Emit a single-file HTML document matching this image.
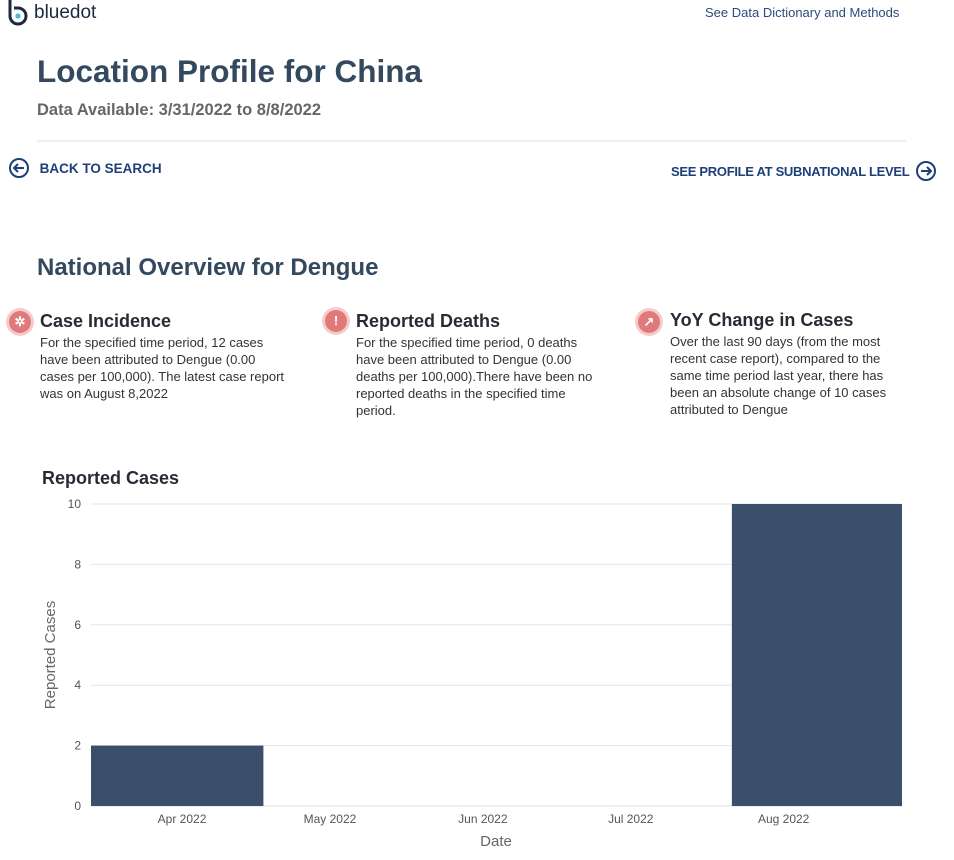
<!DOCTYPE html>
<html><head><meta charset="utf-8">
<style>
body{margin:0;width:954px;height:860px;background:#fff;font-family:"Liberation Sans",sans-serif;position:relative;overflow:hidden}
.a{position:absolute;white-space:nowrap}
.h{color:#34495e;font-weight:bold}
.p{font-size:13px;color:#333;line-height:17px;white-space:normal}
.link{color:#1d3f7a;font-weight:bold;font-size:13px}
.ic{position:absolute;width:22px;height:22px;border-radius:50%;background:#e07a7a;box-shadow:0 0 0 3px #f4cccc;color:#fff;font-size:13px;font-weight:bold;text-align:center;line-height:22px}
</style></head><body>
<div class="a" style="left:6px;top:0;">
<svg width="24" height="26" style="position:absolute;left:0;top:0"><path d="M4 0 V16 A8 8 0 1 0 12 8 H8" stroke="#1b2a3f" stroke-width="3" fill="none"/><circle cx="12" cy="16" r="2.6" fill="#4fb3e8"/></svg>
<span style="position:absolute;left:28px;top:2px;font-size:19px;color:#1b2a3f">bluedot</span></div>
<div class="a" style="left:705px;top:5px;font-size:13px;color:#2c4a7a">See Data Dictionary and Methods</div>
<div class="a h" style="left:37px;top:53px;font-size:31.5px">Location Profile for China</div>
<div class="a" style="left:37px;top:101px;font-size:16.5px;font-weight:bold;color:#666">Data Available: 3/31/2022 to 8/8/2022</div>
<div class="a" style="left:37px;top:140px;width:869px;height:2px;background:#eee"></div>
<div class="a link" style="left:8px;top:157px">
<svg width="22" height="22" style="vertical-align:middle"><circle cx="11" cy="11" r="9" stroke="#1d3f7a" stroke-width="2" fill="none"/><path d="M16 11H6M10 7l-4 4 4 4" stroke="#1d3f7a" stroke-width="2" fill="none"/></svg>
<span style="margin-left:6px;vertical-align:middle;font-size:13.5px">BACK TO SEARCH</span></div>
<div class="a link" style="left:671px;top:160px">
<span style="vertical-align:middle;display:inline-block;width:240px;font-size:13px;letter-spacing:-0.3px">SEE PROFILE AT SUBNATIONAL LEVEL</span>
<svg width="22" height="22" style="vertical-align:middle;margin-left:0"><circle cx="11" cy="11" r="9" stroke="#1d3f7a" stroke-width="2" fill="none"/><path d="M6 11h10M12 7l4 4-4 4" stroke="#1d3f7a" stroke-width="2" fill="none"/></svg></div>
<div class="a h" style="left:37px;top:254px;font-size:24px">National Overview for Dengue</div>

<div class="ic" style="left:9px;top:311px">✲</div>
<div class="a" style="left:40px;top:311px;font-size:18px;font-weight:bold;color:#2a2a35">Case Incidence</div>
<div class="a p" style="left:40px;top:334px;width:250px">For the specified time period, 12 cases have been attributed to Dengue (0.00 cases per 100,000). The latest case report was on August 8,2022</div>

<div class="ic" style="left:325px;top:310px">!</div>
<div class="a" style="left:356px;top:311px;font-size:18px;font-weight:bold;color:#2a2a35">Reported Deaths</div>
<div class="a p" style="left:356px;top:334px;width:240px">For the specified time period, 0 deaths have been attributed to Dengue (0.00 deaths per 100,000).There have been no reported deaths in the specified time period.</div>

<div class="ic" style="left:638px;top:311px">↗</div>
<div class="a" style="left:670px;top:310px;font-size:18px;font-weight:bold;color:#2a2a35">YoY Change in Cases</div>
<div class="a p" style="left:670px;top:333px;width:225px">Over the last 90 days (from the most recent case report), compared to the same time period last year, there has been an absolute change of 10 cases attributed to Dengue</div>

<div class="a" style="left:42px;top:468px;font-size:18px;font-weight:bold;color:#2a2a35">Reported Cases</div>
<svg id="chart" class="a" style="left:0;top:0" width="954" height="860"></svg>
<script>
const dates=["2022-03-31","2022-08-08"];
const cases=[2,10];
const yTicks=[0,2,4,6,8,10];
const xTickDates=["2022-04-01","2022-05-01","2022-06-01","2022-07-01","2022-08-01"];
const xTickLabels=["Apr 2022","May 2022","Jun 2022","Jul 2022","Aug 2022"];
const barDays=35;
const NS="http://www.w3.org/2000/svg";
const svg=document.getElementById('chart');
const DAY=86400000, base=Date.parse("2022-04-01");
const L=91,R=902,T=504,B=806;
const d0=-18.46,d1=146;
function xs(d){const n=(Date.parse(d)-base)/DAY;return L+(n-d0)/(d1-d0)*(R-L);}
function ys(v){return B-(v/10)*(B-T);}
const pxDay=(R-L)/(d1-d0);
function mk(t,a){const e=document.createElementNS(NS,t);for(const k in a)e.setAttribute(k,a[k]);svg.appendChild(e);return e;}
yTicks.forEach(v=>{
 const g=mk('line',{x1:L,x2:R,y1:ys(v),y2:ys(v),stroke:v===0?'#ddd':'#e6e6e6','stroke-width':1});
 
 
 const t=mk('text',{x:81,y:ys(v)+4,'text-anchor':'end','font-size':12,fill:'#555','font-family':'Liberation Sans, sans-serif'});
 t.textContent=v;
 
 
});
dates.forEach((d,i)=>{
 const c=xs(d),w=barDays*pxDay;
 const x0=Math.max(L,c-w/2),x1=Math.min(R,c+w/2);
 const r=mk('rect',{x:x0,y:ys(cases[i]),width:x1-x0,height:ys(0)-ys(cases[i]),fill:'#3a4f6a'});
 
 
});
xTickDates.forEach((d,i)=>{
 const t=mk('text',{x:xs(d),y:823,'text-anchor':'middle','font-size':12,fill:'#555','font-family':'Liberation Sans, sans-serif'});
 t.textContent=xTickLabels[i];
 
 
});
const xt=mk('text',{x:496,y:846,'text-anchor':'middle','font-size':15,fill:'#666','font-family':'Liberation Sans, sans-serif'});
xt.textContent='Date';


const yt=mk('text',{x:0,y:0,'text-anchor':'middle','font-size':15,fill:'#666','font-family':'Liberation Sans, sans-serif',transform:'translate(55,655) rotate(-90)'});
yt.textContent='Reported Cases';


</script>
</body></html>
